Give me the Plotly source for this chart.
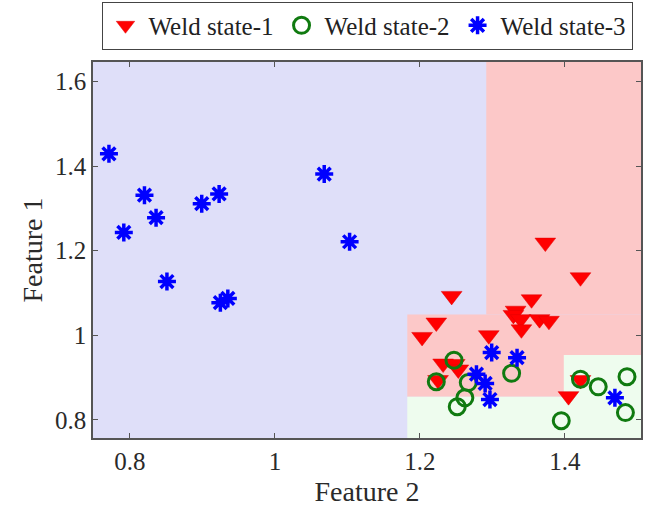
import plotly.graph_objects as go

# ---- data ----
s1_x = [1.373, 1.4215, 1.2438, 1.354, 1.332, 1.329, 1.339, 1.340, 1.365, 1.378,
        1.2226, 1.203, 1.295, 1.232, 1.248, 1.253, 1.225, 1.4215, 1.405]
s1_y = [1.219, 1.137, 1.093, 1.085, 1.058, 1.048, 1.038, 1.014, 1.038, 1.034,
        1.030, 0.996, 1.000, 0.933, 0.932, 0.919, 0.894, 0.894, 0.856]

s2_x = [1.247, 1.2226, 1.2667, 1.262, 1.2515, 1.265, 1.3265, 1.4215, 1.446, 1.4857, 1.4835, 1.395]
s2_y = [0.941, 0.890, 0.888, 0.852, 0.831, 0.756, 0.910, 0.896, 0.878, 0.902, 0.817, 0.798]

s3_x = [0.771, 0.7915, 0.820, 0.836, 0.851, 0.899, 0.923, 0.9247, 0.935, 1.068, 1.103,
        1.299, 1.334, 1.278, 1.290, 1.2966, 1.469]
s3_y = [1.429, 1.243, 1.331, 1.278, 1.127, 1.311, 1.334, 1.077, 1.087, 1.381, 1.221,
        0.959, 0.947, 0.908, 0.886, 0.848, 0.852]

names = ["Weld state-1", "Weld state-2", "Weld state-3"]

x_range = [0.749, 1.505]
y_range = [0.757, 1.646]

# decision regions: (x0, x1, y0, y1, class)
reg_x0 = [1.2915, 1.1826, 1.1826, 1.3985]
reg_x1 = [1.505, 1.505, 1.505, 1.505]
reg_y0 = [1.049, 0.8545, 0.757, 0.757]
reg_y1 = [1.646, 1.049, 0.8545, 0.953]
reg_cls = [1, 1, 2, 2]
region_colors = {1: "#FCC8C8", 2: "#EEFCEE"}
bg_blue = "#DFDFF9"

fig = go.Figure()

for x0, x1, y0, y1, c in zip(reg_x0, reg_x1, reg_y0, reg_y1, reg_cls):
    fig.add_shape(type="rect", x0=x0, x1=x1, y0=y0, y1=y1, xref="x", yref="y",
                  fillcolor=region_colors[c], line=dict(width=0), layer="below")

fig.add_trace(go.Scatter(x=s1_x, y=s1_y, mode="markers", name=names[0],
                         marker=dict(symbol="triangle-down", size=18, color="#FF0000",
                                     line=dict(width=0.5, color="#E00000")),
                         cliponaxis=False))
fig.add_trace(go.Scatter(x=s2_x, y=s2_y, mode="markers", name=names[1],
                         marker=dict(symbol="circle-open", size=16, color="#107A10",
                                     line=dict(width=3, color="#107A10")),
                         cliponaxis=False))
fig.add_trace(go.Scatter(x=s3_x, y=s3_y, mode="markers", name=names[2],
                         marker=dict(symbol="asterisk-open", size=15, color="#0000FF",
                                     line=dict(width=3.5, color="#0000FF")),
                         cliponaxis=False))

font_family = "Liberation Serif"
axis_common = dict(showgrid=False, zeroline=False, showline=True, linecolor="#555555",
                   linewidth=1.5, mirror="ticks", ticks="inside", ticklen=5,
                   tickcolor="#555555", tickwidth=1,
                   tickfont=dict(family=font_family, size=25, color="#2a2a2a"))

fig.update_layout(
    width=649, height=513,
    margin=dict(l=93, r=6, t=62, b=75),
    paper_bgcolor="white", plot_bgcolor=bg_blue,
    font=dict(family=font_family, color="#222222"),
    xaxis=dict(range=x_range, tickvals=[0.8, 1.0, 1.2, 1.4], ticktext=["0.8", "1", "1.2", "1.4"],
               title=dict(text="Feature 2", font=dict(family=font_family, size=28, color="#2a2a2a"),
                          standoff=8),
               **axis_common),
    yaxis=dict(range=y_range, tickvals=[0.8, 1.0, 1.2, 1.4, 1.6], ticktext=["0.8", "1", "1.2", "1.4", "1.6"],
               title=dict(text="Feature 1", font=dict(family=font_family, size=28, color="#2a2a2a"),
                          standoff=4),
               **axis_common),
    legend=dict(orientation="h", x=0.5, xanchor="center", yref="container", y=0.997, yanchor="top",
                bordercolor="#444444", borderwidth=1, bgcolor="white",
                font=dict(family=font_family, size=25, color="#222222"),
                itemwidth=36, tracegroupgap=0),
    showlegend=True,
)

fig.write_html("out.html")
